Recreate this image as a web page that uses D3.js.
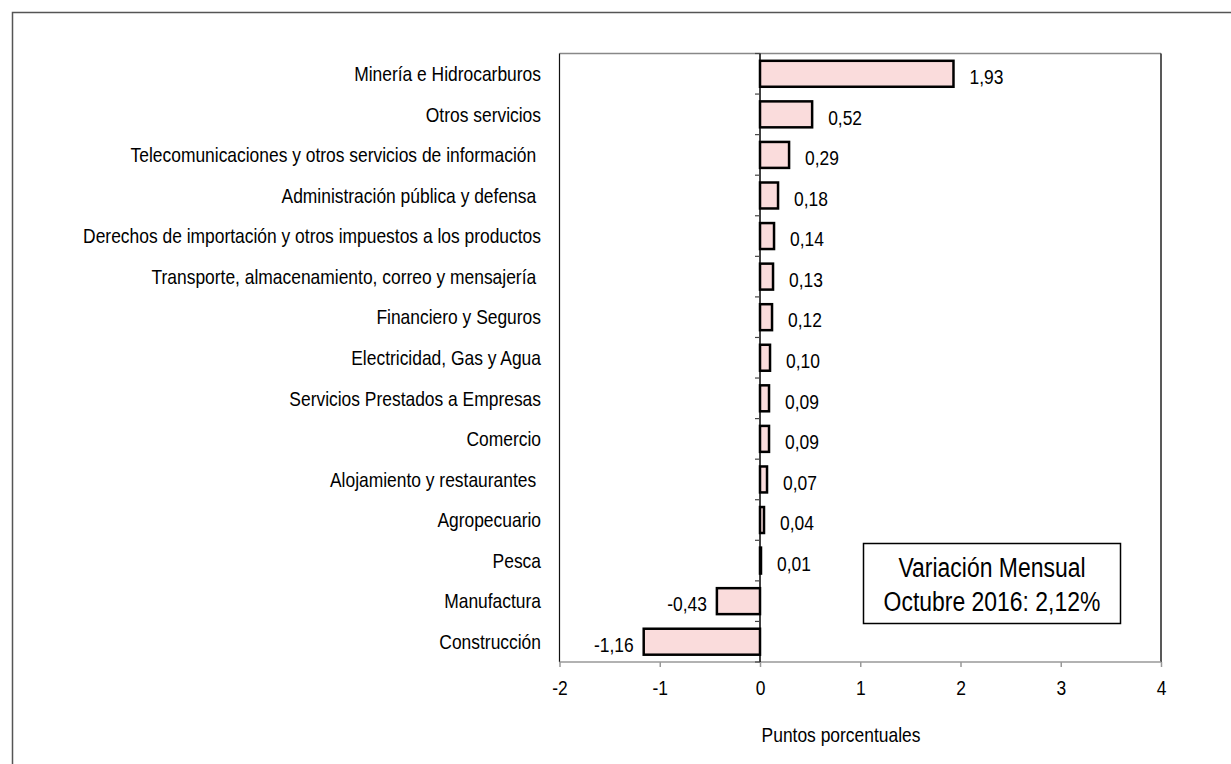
<!DOCTYPE html>
<html><head><meta charset="utf-8">
<script src="https://cdn.jsdelivr.net/npm/d3@7"></script>
<style>
html,body{margin:0;padding:0;background:#fff;}
svg text{font-family:"Liberation Sans Narrow","Arial Narrow","Liberation Sans",Arial,sans-serif;fill:#000;white-space:pre;}
</style></head>
<body>
<svg id="chart" width="1231" height="764"></svg>
<script>
const categories = [
  "Minería e Hidrocarburos",
  "Otros servicios",
  "Telecomunicaciones y otros servicios de información ",
  "Administración pública y defensa ",
  "Derechos de importación y otros impuestos a los productos",
  "Transporte, almacenamiento, correo y mensajería ",
  "Financiero y Seguros",
  "Electricidad, Gas y Agua",
  "Servicios Prestados a Empresas",
  "Comercio",
  "Alojamiento y restaurantes ",
  "Agropecuario",
  "Pesca",
  "Manufactura",
  "Construcción"
];
const values = [1.93, 0.52, 0.29, 0.18, 0.14, 0.13, 0.12, 0.10, 0.09, 0.09, 0.07, 0.04, 0.01, -0.43, -1.16];
const xTicks = [-2, -1, 0, 1, 2, 3, 4];
const axisTitle = "Puntos porcentuales";
const boxLines = ["Variación Mensual", "Octubre 2016: 2,12%"];

const SX = 0.85; // horizontal condensing to mimic a narrow face
const svg = d3.select("#chart");
const fmt = v => v.toFixed(2).replace(".", ",");

// place text at (x,y) with condensed width
function placeNarrow(sel, fx, fy) {
  sel.attr("x", 0).attr("y", 0)
     .attr("transform", (d, i) => `translate(${fx(d, i)},${fy(d, i)}) scale(${SX},1)`);
}

// outer frame
svg.append("rect").attr("x", 12.5).attr("y", 12.5).attr("width", 1240).attr("height", 780)
  .attr("fill", "none").attr("stroke", "#555").attr("stroke-width", 1.5);

const L = 559.5, R = 1161, T = 53.5, B = 662;
const x = d3.scaleLinear().domain([-2, 4]).range([L, R]);
const y = d3.scaleBand().domain(categories).range([T, B]).paddingInner(0.36).paddingOuter(0.18);

// plot frame
svg.append("line").attr("x1", L).attr("x2", R).attr("y1", T).attr("y2", T).attr("stroke", "#888").attr("stroke-width", 1.5);
svg.append("line").attr("x1", R).attr("x2", R).attr("y1", T).attr("y2", B).attr("stroke", "#222").attr("stroke-width", 1.5);
svg.append("line").attr("x1", L).attr("x2", L).attr("y1", T).attr("y2", B).attr("stroke", "#111").attr("stroke-width", 1.2);

// x axis
const xAxis = svg.append("g").attr("transform", `translate(0,${B})`)
  .call(d3.axisBottom(x).tickValues(xTicks).tickSize(5).tickPadding(13).tickFormat(d => d));
xAxis.select(".domain").attr("stroke", "#999").attr("stroke-width", 1.5).attr("d", `M${L},0H${R}`);
xAxis.selectAll(".tick line").attr("stroke", "#999").attr("stroke-width", 1.5);
xAxis.selectAll(".tick text").attr("font-size", 20.5).attr("fill", "#000")
  .attr("transform", `scale(${SX},1)`)
  .style("font-family", '"Liberation Sans Narrow","Arial Narrow","Liberation Sans",Arial,sans-serif');

// bars
svg.append("g").selectAll("rect").data(values).join("rect")
  .attr("x", d => x(Math.min(0, d)))
  .attr("y", (d, i) => y(categories[i]))
  .attr("width", d => Math.abs(x(d) - x(0)))
  .attr("height", y.bandwidth())
  .attr("fill", "#fadcdc").attr("stroke", "#000").attr("stroke-width", 2.5);

// zero axis with ticks at band boundaries
const zeroAxis = svg.append("g");
zeroAxis.append("line").attr("x1", x(0)).attr("x2", x(0)).attr("y1", T).attr("y2", B).attr("stroke", "#000").attr("stroke-width", 1.5);
zeroAxis.selectAll("line.t").data(d3.range(categories.length + 1)).join("line").attr("class", "t")
  .attr("x1", x(0) - 5).attr("x2", x(0)).attr("y1", i => T + i * ((B - T) / categories.length)).attr("y2", i => T + i * ((B - T) / categories.length))
  .attr("stroke", "#444").attr("stroke-width", 1.2);

// category labels
svg.append("g").selectAll("text").data(categories).join("text")
  .attr("dy", "0.35em").attr("text-anchor", "end").attr("font-size", 20.5).text(d => d)
  .call(placeNarrow, () => 541, d => y(d) + y.bandwidth() / 2);

// value labels
svg.append("g").selectAll("text").data(values).join("text")
  .attr("dy", "0.35em").attr("text-anchor", d => d >= 0 ? "start" : "end").attr("font-size", 20.5).text(fmt)
  .call(placeNarrow, d => d >= 0 ? x(d) + 16 : x(d) - 10, (d, i) => y(categories[i]) + y.bandwidth() / 2 + 3);

// axis title
svg.append("text").attr("text-anchor", "middle").attr("font-size", 20.5).text(axisTitle)
  .call(placeNarrow, () => 841, () => 742);

// annotation box
svg.append("rect").attr("x", 863.5).attr("y", 543.5).attr("width", 257).attr("height", 80)
  .attr("fill", "#fff").attr("stroke", "#000").attr("stroke-width", 1.5);
svg.append("g").selectAll("text").data(boxLines).join("text")
  .attr("text-anchor", "middle").attr("font-size", 27).text(d => d)
  .call(placeNarrow, () => 992, (d, i) => 577 + i * 34);
</script>
</body></html>
